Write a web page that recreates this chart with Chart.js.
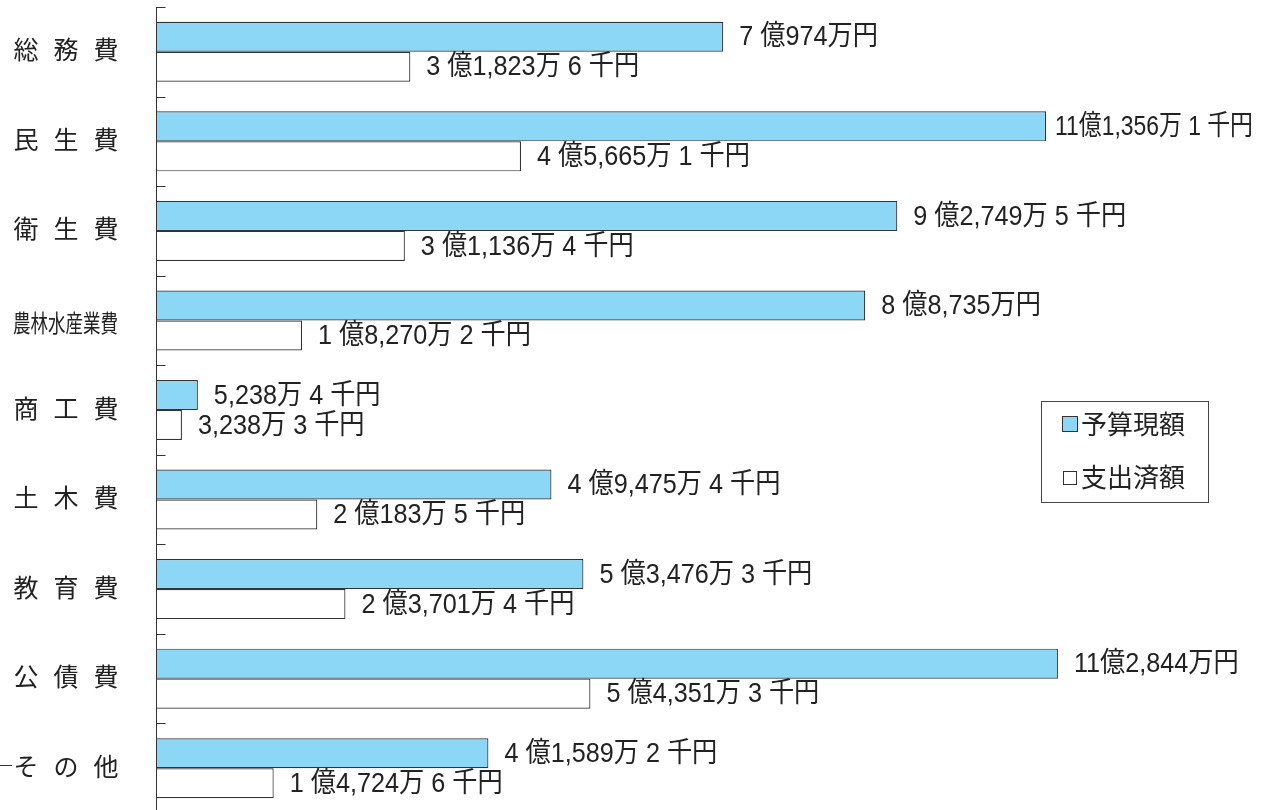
<!DOCTYPE html>
<html>
<head>
<meta charset="utf-8">
<script src="https://cdn.jsdelivr.net/npm/chart.js@4.4.1/dist/chart.umd.min.js"></script>
<style>
  body { margin: 0; background: #fff; overflow: hidden; }
  #wrap { position: relative; width: 1263px; height: 810px; overflow: hidden; }
  #legend {
    position: absolute; left: 1041px; top: 401px; width: 168px; height: 102px;
    border: 1px solid #444; box-sizing: border-box;
    font-family: "Noto Sans CJK JP", sans-serif; font-size: 26px; color: #222;
  }
  #legend div { position: absolute; left: 20px; line-height: 30px; white-space: nowrap; }
  #legend span {
    display: inline-block; width: 14px; height: 14px; border: 1px solid #333;
    margin-right: 3px; vertical-align: 2px;
  }
</style>
</head>
<body>
<div id="wrap">
  <canvas id="budgetChart" width="1263" height="813"></canvas>
  <div id="legend">
    <div style="top:6px"><span style="background:#8cd7f6"></span>予算現額</div>
    <div style="top:59px"><span style="background:#fff;width:12px;height:12px;margin-left:1px;margin-right:4px"></span>支出済額</div>
  </div>
</div>
<script>
// 単位：千円
const categories = ["総務費", "民生費", "衛生費", "農林水産業費", "商工費", "土木費", "教育費", "公債費", "その他"];
const budget = [709740, 1113561, 927495, 887350, 52384, 494754, 534763, 1128440, 415892];
const spent = [318236, 456651, 311364, 182702, 32383, 201835, 237014, 543513, 147246];

const fmt = (v) => {
  const oku = Math.floor(v / 100000);
  const man = Math.floor((v % 100000) / 10);
  const sen = v % 10;
  let s = "";
  if (oku > 0) s += oku >= 10 ? oku + "億" : oku + " 億";
  s += man.toLocaleString("en-US") + "万";
  if (sen > 0) s += " " + sen + " 千";
  return s + "円";
};

// 値ラベル（やや縦長の書体）
const labelPlugin = {
  id: "barLabels",
  afterDatasetsDraw(chart) {
    const ctx = chart.ctx;
    const limit = chart.width - 10;
    ctx.save();
    ctx.font = '28px "Liberation Sans", "Noto Sans CJK JP", sans-serif';
    ctx.fillStyle = "#222";
    ctx.textBaseline = "middle";
    chart.data.datasets.forEach((ds, di) => {
      chart.getDatasetMeta(di).data.forEach((bar, i) => {
        const txt = fmt(ds.data[i]);
        const raw = ctx.measureText(txt).width;
        let sx = 0.9;
        let x = bar.x + 16;
        if (x + raw * sx > limit) {
          x = Math.max(bar.x + 9, limit - raw * sx);
          sx = Math.min(sx, (limit - x) / raw);
        }
        ctx.save();
        ctx.translate(x, bar.y + 1);
        ctx.scale(sx, 1);
        ctx.fillText(txt, 0, 0);
        ctx.restore();
      });
    });
    ctx.restore();
  }
};

// 項目名・軸線・目盛り
const axisPlugin = {
  id: "axisDeco",
  afterDraw(chart) {
    const y = chart.scales.y;
    const ctx = chart.ctx;
    const step = (y.bottom - y.top) / categories.length;
    const ax = y.right + 0.5;
    ctx.save();
    ctx.strokeStyle = "#333";
    ctx.lineWidth = 1;
    for (let i = 0; i < categories.length; i++) {
      const py = Math.round(y.top + step * i) + 0.5;
      ctx.beginPath();
      ctx.moveTo(ax, py);
      ctx.lineTo(ax + 9, py);
      ctx.stroke();
    }
    ctx.beginPath();
    ctx.moveTo(ax, y.top);
    ctx.lineTo(ax, chart.height);
    ctx.stroke();

    ctx.fillStyle = "#222";
    ctx.textBaseline = "middle";
    const endX = 118;
    categories.forEach((c, i) => {
      const cy = y.getPixelForValue(i);
      const chars = [...c];
      if (chars.length > 3) {
        ctx.font = '24px "Noto Sans CJK JP", sans-serif';
        const w = ctx.measureText(c).width;
        ctx.save();
        ctx.translate(endX - 105, cy + 2);
        ctx.scale(105 / w, 1);
        ctx.textAlign = "left";
        ctx.fillText(c, 0, 0);
        ctx.restore();
      } else {
        ctx.font = '25px "Noto Sans CJK JP", sans-serif';
        ctx.textAlign = "center";
        chars.forEach((ch, k) => {
          ctx.fillText(ch, endX - 12 - (chars.length - 1 - k) * 40, cy - 2);
        });
      }
    });
    // その他の左の短い線
    const last = y.getPixelForValue(categories.length - 1);
    ctx.beginPath();
    ctx.moveTo(0, Math.round(last) - 2.5);
    ctx.lineTo(12, Math.round(last) - 2.5);
    ctx.stroke();
    ctx.restore();
  }
};

new Chart(document.getElementById("budgetChart"), {
  type: "bar",
  data: {
    labels: categories,
    datasets: [{
      label: "予算現額",
      data: budget,
      backgroundColor: "#8cd7f6",
      borderColor: "#333",
      borderWidth: 1.2,
      barPercentage: 1,
      categoryPercentage: 0.67
    }, {
      label: "支出済額",
      data: spent,
      backgroundColor: "#fff",
      borderColor: "#333",
      borderWidth: 1.2,
      barPercentage: 1,
      categoryPercentage: 0.67
    }]
  },
  options: {
    indexAxis: "y",
    responsive: false,
    animation: false,
    layout: { padding: { left: 38, right: 4, top: 7, bottom: 0 } },
    plugins: {
      legend: { display: false },
      tooltip: { enabled: false }
    },
    scales: {
      x: {
        display: false,
        min: 0,
        max: 1380000
      },
      y: {
        afterFit(scale) { scale.width = 118; },
        border: { display: false },
        grid: { display: false },
        ticks: { display: false }
      }
    }
  },
  plugins: [labelPlugin, axisPlugin]
});
</script>
</body>
</html>
